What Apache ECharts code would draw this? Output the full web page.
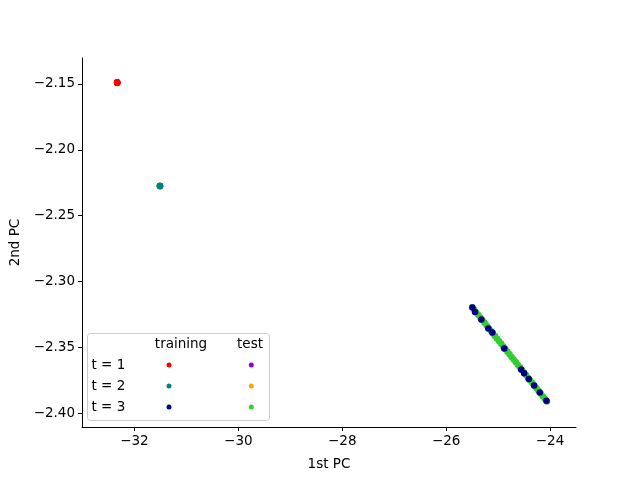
<!DOCTYPE html>
<html>
<head>
<meta charset="utf-8">
<script src="https://cdn.jsdelivr.net/npm/echarts@6/dist/echarts.min.js"></script>
<style>
  html, body { margin: 0; padding: 0; background: #fff; }
  #chart { width: 640px; height: 480px; }
</style>
</head>
<body>
<div id="chart"></div>
<script>
// values
const xTicks = [-32, -30, -28, -26, -24];
const yTicks = [-2.40, -2.35, -2.30, -2.25, -2.20, -2.15];

const trainT1 = [[-32.335, -2.1490], [-32.330, -2.1492], [-32.332, -2.1487]];
const trainT2 = [[-31.512, -2.2273], [-31.506, -2.2277], [-31.509, -2.2275]];
const trainT3 = [
  [-25.494, -2.3199], [-25.443, -2.3233], [-25.322, -2.3290], [-25.188, -2.3358],
  [-25.111, -2.3389], [-24.881, -2.3510], [-24.556, -2.3669], [-24.498, -2.3697],
  [-24.408, -2.3742], [-24.307, -2.3790], [-24.197, -2.3843], [-24.069, -2.3907]
];
const testT1 = [[-32.333, -2.1490], [-32.331, -2.1489]];
const testT2 = [[-31.510, -2.2275], [-31.508, -2.2276]];
const testT3 = [
  [-25.50, -2.3196], [-25.46, -2.3216], [-25.42, -2.3236], [-25.38, -2.3256],
  [-25.34, -2.3276], [-25.30, -2.3295], [-25.26, -2.3315], [-25.22, -2.3335],
  [-25.18, -2.3355], [-25.14, -2.3375], [-25.10, -2.3395], [-25.06, -2.3415],
  [-25.02, -2.3435], [-24.98, -2.3454], [-24.94, -2.3474], [-24.90, -2.3494],
  [-24.86, -2.3514], [-24.82, -2.3534], [-24.78, -2.3554], [-24.74, -2.3574],
  [-24.70, -2.3594], [-24.66, -2.3613], [-24.62, -2.3633], [-24.58, -2.3653],
  [-24.54, -2.3673], [-24.50, -2.3693], [-24.46, -2.3713], [-24.42, -2.3733],
  [-24.38, -2.3753], [-24.34, -2.3772], [-24.30, -2.3792], [-24.26, -2.3812],
  [-24.22, -2.3832], [-24.18, -2.3852], [-24.14, -2.3872], [-24.10, -2.3892],
  [-24.06, -2.3912]
];

const font = "DejaVu Sans";
const fs = 13.5;
const minus = v => (v < 0 ? "\u2212" : "") + Math.abs(v);

const chart = echarts.init(document.getElementById("chart"));

function sc(name, data, color) {
  return {
    name: name,
    type: "scatter",
    data: data,
    symbolSize: 6.5,
    itemStyle: { color: color, opacity: 1 },
    emphasis: { disabled: true },
    animation: false
  };
}

const legendBase = {
  orient: "vertical",
  icon: "circle",
  itemWidth: 5,
  itemHeight: 5,
  itemGap: 16,
  padding: 0,
  z: 100,
  zlevel: 0,
  selectedMode: false,
  formatter: () => "",
  textStyle: { fontSize: 5 }
};

const txt = (s, x, y, align) => ({
  type: "text", x: x, y: y, z: 60,
  style: { text: s, font: fs + "px DejaVu Sans", fill: "#000", align: align, verticalAlign: "middle" }
});

chart.setOption({
  backgroundColor: "#fff",
  animation: false,
  grid: { left: 80, right: 64, top: 58, bottom: 53 },
  xAxis: {
    type: "value",
    min: -33.01,
    max: -23.5,
    name: "1st PC",
    nameLocation: "middle",
    nameGap: 30,
    nameTextStyle: { fontFamily: font, fontSize: fs, color: "#000" },
    axisLine: { lineStyle: { color: "#000", width: 1 } },
    axisTick: { show: true, length: 4, lineStyle: { color: "#000" }, customValues: xTicks },
    axisLabel: {
      fontFamily: font, fontSize: fs, color: "#000", margin: 7,
      customValues: xTicks, formatter: v => minus(v)
    },
    splitLine: { show: false }
  },
  yAxis: {
    type: "value",
    min: -2.4106,
    max: -2.1303,
    name: "2nd PC",
    nameLocation: "middle",
    nameGap: 60,
    nameTextStyle: { fontFamily: font, fontSize: fs, color: "#000" },
    axisLine: { show: true, lineStyle: { color: "#000", width: 1 } },
    axisTick: { show: true, length: 4, lineStyle: { color: "#000" }, customValues: yTicks },
    axisLabel: {
      fontFamily: font, fontSize: fs, color: "#000", margin: 7,
      customValues: yTicks,
      formatter: v => (v < 0 ? "\u2212" : "") + Math.abs(v).toFixed(2)
    },
    splitLine: { show: false }
  },
  legend: [
    Object.assign({}, legendBase, {
      left: 166.5, top: 362.5,
      data: ["training t = 1", "training t = 2", "training t = 3"]
    }),
    Object.assign({}, legendBase, {
      left: 248.8, top: 362.5,
      data: ["test t = 1", "test t = 2", "test t = 3"]
    })
  ],
  graphic: [
    {
      type: "rect", left: 87, top: 333, z: 50,
      shape: { width: 182, height: 87, r: 3 },
      style: { fill: "rgba(255,255,255,0.8)", stroke: "#cccccc", lineWidth: 1 }
    },
    txt("training", 181, 344, "center"),
    txt("test", 250, 344, "center"),
    txt("t = 1", 91.5, 365, "left"),
    txt("t = 2", 91.5, 386, "left"),
    txt("t = 3", 91.5, 407, "left")
  ],
  series: [
    sc("test t = 1", testT1, "#9400d3"),
    sc("test t = 2", testT2, "#ffa500"),
    sc("test t = 3", testT3, "#32cd32"),
    sc("training t = 1", trainT1, "#ff0000"),
    sc("training t = 2", trainT2, "#008080"),
    sc("training t = 3", trainT3, "#000080")
  ]
});
</script>
</body>
</html>
